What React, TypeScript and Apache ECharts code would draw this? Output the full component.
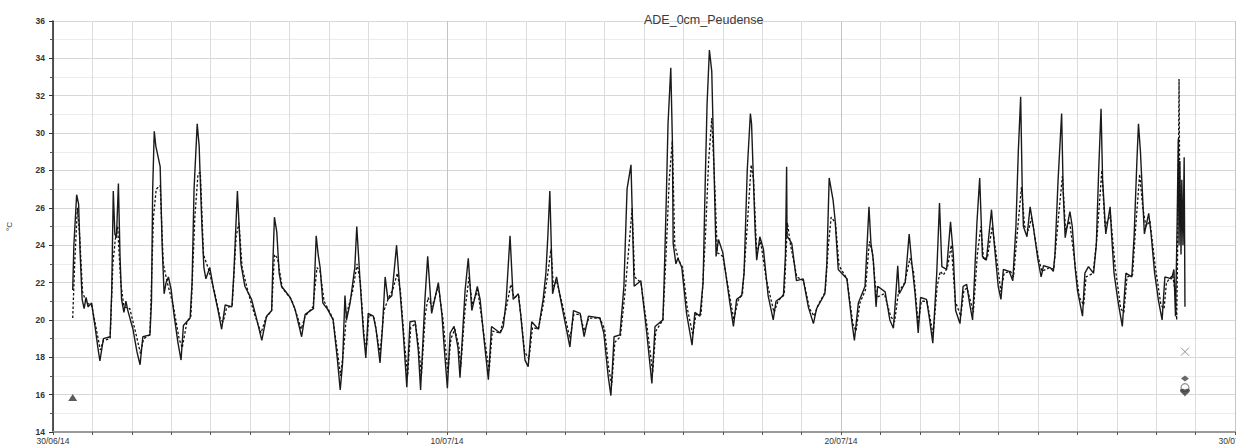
import React, { useEffect, useRef } from "react";
import * as echarts from "echarts";

const chartTitle = "ADE_0cm_Peudense";
const yAxisName = "°C";
const tickDays = [0, 10, 20, 30];
const tickLabels = ["30/06/14", "10/07/14", "20/07/14", "30/07/14"];

// [day since 30/06/14, temperature]
const solidSeries: [number, number][] = [
  [0.50,21.6],[0.53,24.0],[0.60,26.7],[0.65,26.2],[0.69,23.5],[0.74,21.1],[0.79,20.6],[0.84,21.2],[0.89,20.7],[0.98,20.9],[1.07,19.6],[1.14,18.5],[1.19,17.8],[1.28,19.0],[1.45,19.1],[1.49,21.5],[1.53,26.9],[1.57,24.6],[1.61,24.4],[1.66,27.3],[1.70,23.5],[1.74,21.1],[1.80,20.4],[1.85,21.0],[1.90,20.5],[2.03,19.5],[2.13,18.3],[2.21,17.6],[2.28,19.1],[2.46,19.2],[2.50,21.0],[2.53,27.0],[2.57,30.1],[2.61,29.3],[2.72,28.2],[2.77,24.0],[2.82,21.4],[2.87,22.0],[2.93,22.3],[3.00,21.6],[3.07,20.3],[3.17,18.8],[3.25,17.85],[3.31,19.7],[3.48,20.1],[3.53,22.0],[3.58,27.0],[3.66,30.5],[3.71,29.3],[3.73,28.0],[3.78,25.0],[3.83,22.8],[3.88,22.2],[3.98,22.8],[4.07,21.7],[4.19,20.5],[4.28,19.5],[4.37,20.8],[4.54,20.7],[4.59,22.5],[4.68,26.9],[4.72,25.2],[4.77,23.0],[4.87,21.8],[5.04,21.1],[5.15,20.2],[5.30,18.9],[5.42,20.2],[5.55,20.5],[5.58,23.0],[5.62,25.5],[5.68,24.7],[5.74,22.5],[5.80,21.8],[6.02,21.2],[6.14,20.6],[6.31,19.1],[6.40,20.3],[6.61,20.6],[6.68,24.5],[6.73,23.5],[6.78,22.8],[6.85,20.9],[6.96,20.6],[7.11,20.0],[7.22,17.85],[7.29,16.25],[7.35,17.7],[7.41,21.3],[7.45,20.0],[7.54,20.9],[7.66,22.8],[7.71,25.0],[7.79,22.2],[7.88,19.3],[7.94,17.96],[8.00,20.35],[8.13,20.2],[8.20,19.5],[8.30,17.7],[8.36,19.5],[8.43,22.3],[8.50,21.1],[8.60,21.3],[8.72,24.0],[8.78,22.3],[8.89,19.3],[8.98,16.4],[9.06,19.9],[9.19,19.95],[9.27,18.4],[9.33,16.25],[9.44,21.1],[9.51,23.4],[9.61,20.35],[9.78,22.0],[9.87,20.3],[9.93,18.5],[10.01,16.35],[10.08,19.3],[10.18,19.65],[10.28,18.5],[10.33,16.9],[10.46,21.6],[10.54,23.3],[10.63,20.5],[10.77,21.8],[10.84,21.1],[10.95,18.75],[11.05,16.8],[11.13,19.65],[11.35,19.3],[11.43,19.65],[11.50,21.0],[11.60,24.5],[11.68,21.1],[11.81,21.4],[11.87,20.3],[11.98,17.85],[12.06,17.5],[12.15,19.9],[12.32,19.5],[12.44,21.1],[12.51,22.5],[12.56,24.5],[12.61,26.9],[12.68,21.4],[12.78,22.3],[12.91,20.8],[13.12,18.55],[13.21,20.5],[13.38,20.35],[13.48,19.1],[13.59,20.2],[13.88,20.1],[13.98,19.3],[14.09,17.0],[14.16,15.95],[14.24,19.1],[14.39,19.2],[14.49,21.8],[14.57,27.0],[14.67,28.3],[14.75,21.8],[14.92,22.1],[15.07,19.3],[15.20,16.6],[15.28,19.65],[15.48,20.0],[15.51,22.0],[15.56,26.0],[15.61,30.5],[15.68,33.5],[15.72,29.6],[15.74,24.1],[15.81,23.0],[15.86,23.3],[15.96,22.8],[16.08,20.35],[16.22,18.65],[16.29,20.4],[16.42,20.2],[16.50,22.0],[16.55,27.0],[16.60,31.5],[16.66,34.45],[16.72,33.3],[16.78,27.85],[16.83,23.4],[16.89,24.3],[17.00,23.6],[17.18,20.9],[17.27,19.65],[17.35,21.1],[17.48,21.3],[17.54,22.5],[17.62,28.0],[17.70,31.05],[17.73,30.5],[17.82,24.8],[17.86,23.2],[17.94,24.45],[18.03,23.8],[18.15,21.3],[18.28,20.0],[18.35,21.0],[18.54,21.3],[18.59,23.5],[18.62,28.2],[18.63,24.5],[18.75,24.1],[18.87,22.1],[19.04,22.2],[19.17,20.7],[19.30,19.8],[19.38,20.6],[19.59,21.4],[19.64,23.0],[19.70,27.6],[19.80,26.4],[19.85,25.35],[19.93,22.7],[20.15,22.2],[20.27,20.0],[20.34,18.9],[20.44,20.9],[20.61,21.8],[20.71,26.05],[20.76,24.1],[20.82,23.2],[20.89,20.7],[20.93,21.8],[21.12,21.5],[21.24,20.0],[21.33,19.55],[21.37,20.7],[21.44,22.9],[21.48,21.4],[21.63,22.0],[21.73,24.6],[21.79,23.2],[21.88,21.4],[21.96,19.3],[22.02,21.2],[22.17,21.1],[22.25,20.0],[22.33,18.75],[22.43,22.5],[22.50,26.25],[22.56,22.85],[22.68,22.7],[22.78,25.25],[22.85,23.5],[22.91,20.5],[23.02,19.8],[23.10,21.8],[23.19,21.9],[23.27,20.8],[23.34,20.0],[23.45,25.2],[23.52,27.6],[23.59,23.4],[23.69,23.2],[23.82,25.9],[23.88,24.3],[23.99,21.8],[24.06,21.1],[24.12,22.7],[24.27,22.6],[24.36,22.1],[24.44,25.0],[24.50,29.0],[24.56,31.95],[24.60,27.0],[24.63,25.0],[24.72,24.45],[24.80,26.05],[24.88,25.0],[25.00,23.2],[25.08,22.3],[25.14,22.9],[25.31,22.8],[25.39,22.6],[25.43,23.5],[25.51,27.5],[25.60,31.05],[25.64,26.8],[25.69,24.4],[25.74,25.0],[25.81,25.8],[25.87,25.0],[25.94,22.85],[26.00,21.6],[26.13,20.2],[26.19,22.5],[26.28,22.85],[26.41,22.5],[26.48,24.0],[26.54,28.0],[26.60,31.3],[26.64,27.5],[26.72,24.6],[26.83,26.05],[26.87,24.5],[26.93,22.5],[27.03,21.0],[27.14,19.65],[27.23,22.5],[27.38,22.3],[27.44,24.5],[27.51,28.5],[27.55,30.5],[27.60,29.0],[27.70,24.6],[27.81,25.7],[27.87,24.6],[27.96,22.5],[28.06,21.0],[28.15,20.0],[28.22,22.3],[28.39,22.2],[28.45,22.7],[28.49,20.2],[28.53,25.0],[28.56,29.7],[28.58,24.0],[28.60,28.5],[28.63,23.5],[28.65,27.5],[28.68,24.0],[28.71,28.7],[28.73,20.7]
];

const dashedSeries: [number, number][] = [
  [0.50,20.1],[0.55,23.0],[0.62,26.0],[0.68,24.4],[0.75,21.5],[0.85,20.9],[0.98,20.8],[1.10,19.5],[1.20,18.4],[1.28,18.9],[1.45,19.0],[1.52,23.0],[1.58,24.3],[1.64,25.0],[1.72,22.0],[1.80,20.7],[1.95,20.6],[2.10,19.3],[2.22,18.2],[2.30,19.0],[2.46,19.2],[2.55,25.5],[2.62,27.0],[2.72,27.2],[2.80,23.0],[2.90,22.0],[3.05,20.8],[3.20,19.0],[3.28,18.5],[3.40,19.9],[3.50,20.2],[3.60,25.5],[3.68,27.8],[3.74,27.9],[3.82,23.5],[3.95,22.7],[4.10,21.5],[4.25,20.0],[4.32,19.9],[4.40,20.6],[4.55,20.8],[4.65,24.5],[4.72,25.2],[4.80,22.8],[4.95,21.5],[5.10,20.4],[5.28,19.3],[5.40,20.1],[5.55,20.5],[5.62,23.5],[5.70,23.3],[5.82,21.7],[6.05,21.1],[6.20,20.2],[6.30,19.5],[6.40,20.2],[6.60,20.7],[6.70,22.8],[6.78,22.6],[6.88,21.0],[7.10,20.1],[7.22,18.3],[7.30,17.0],[7.38,18.5],[7.45,20.3],[7.60,21.5],[7.72,23.0],[7.80,22.0],[7.90,19.0],[7.96,18.6],[8.02,20.3],[8.15,20.1],[8.30,18.2],[8.40,20.5],[8.52,21.2],[8.62,21.6],[8.74,22.5],[8.82,21.5],[8.92,18.8],[9.00,17.0],[9.08,19.6],[9.20,19.8],[9.28,18.6],[9.35,17.0],[9.45,20.3],[9.52,21.2],[9.62,20.7],[9.78,21.8],[9.90,20.0],[10.02,17.2],[10.10,19.0],[10.20,19.5],[10.30,18.6],[10.35,17.5],[10.46,20.6],[10.56,22.3],[10.64,20.8],[10.78,21.6],[10.95,19.0],[11.07,17.3],[11.15,19.4],[11.35,19.3],[11.50,20.6],[11.62,21.9],[11.70,21.2],[11.82,21.3],[11.97,18.3],[12.08,17.9],[12.17,19.6],[12.32,19.5],[12.45,20.9],[12.56,22.5],[12.64,23.8],[12.70,21.8],[12.78,22.1],[12.92,20.9],[13.12,19.0],[13.22,20.3],[13.38,20.3],[13.48,19.4],[13.60,20.1],[13.88,20.1],[14.00,19.5],[14.10,17.5],[14.18,16.5],[14.26,18.8],[14.40,19.1],[14.52,21.5],[14.62,24.0],[14.70,26.0],[14.76,22.3],[14.92,22.0],[15.08,19.6],[15.22,17.2],[15.30,19.4],[15.48,20.0],[15.56,23.5],[15.64,27.5],[15.72,29.6],[15.78,24.0],[15.88,23.2],[15.98,22.8],[16.10,20.6],[16.24,19.2],[16.32,20.3],[16.45,20.3],[16.56,24.5],[16.64,28.5],[16.72,30.8],[16.80,27.0],[16.86,23.6],[17.00,23.4],[17.18,21.2],[17.28,20.0],[17.38,21.0],[17.50,21.4],[17.62,25.0],[17.72,28.3],[17.78,27.5],[17.86,23.6],[17.96,24.2],[18.10,22.2],[18.30,20.4],[18.40,21.0],[18.56,21.4],[18.64,25.2],[18.72,24.0],[18.88,22.3],[19.05,22.1],[19.20,20.6],[19.32,20.2],[19.42,20.8],[19.60,21.5],[19.68,24.0],[19.75,25.5],[19.86,25.2],[19.95,22.9],[20.15,22.2],[20.30,19.8],[20.38,19.4],[20.48,20.9],[20.62,21.6],[20.72,24.2],[20.80,23.6],[20.90,21.2],[21.10,21.4],[21.26,20.2],[21.36,19.9],[21.46,21.5],[21.62,22.0],[21.75,23.3],[21.84,22.6],[21.96,19.8],[22.04,21.0],[22.18,21.0],[22.34,19.2],[22.44,21.8],[22.52,22.6],[22.60,22.4],[22.70,22.8],[22.80,24.0],[22.90,21.0],[23.04,20.2],[23.12,21.6],[23.20,21.7],[23.36,20.4],[23.46,23.5],[23.55,25.0],[23.62,23.2],[23.72,23.4],[23.84,25.0],[23.92,23.8],[24.06,21.5],[24.14,22.5],[24.30,22.6],[24.38,22.3],[24.48,24.8],[24.58,27.1],[24.66,25.0],[24.76,24.8],[24.84,25.5],[25.00,23.4],[25.10,22.6],[25.30,22.8],[25.40,22.7],[25.52,25.5],[25.62,27.7],[25.70,24.8],[25.80,25.3],[25.92,23.3],[26.05,21.2],[26.16,20.8],[26.22,22.3],[26.40,22.5],[26.50,24.5],[26.62,28.0],[26.70,25.0],[26.84,25.6],[26.96,22.8],[27.10,20.6],[27.18,20.4],[27.26,22.3],[27.40,22.4],[27.48,25.0],[27.58,27.8],[27.66,26.0],[27.74,25.0],[27.84,25.3],[27.98,22.8],[28.12,20.8],[28.20,20.6],[28.26,22.0],[28.42,22.4],[28.48,21.5],[28.52,20.0],[28.54,23.0],[28.57,30.0],[28.58,32.9],[28.60,26.0],[28.62,25.0]
];

const triangleMarker: [number, number][] = [[0.5, 15.85]];
const crossMarker: [number, number][] = [[28.73, 18.3]];
const diamondMarker: [number, number][] = [[28.73, 16.87]];
const circleMarker: [number, number][] = [[28.73, 16.37]];
const downMarker: [number, number][] = [[28.73, 16.1]];

const FONT = "'Liberation Sans', Arial, sans-serif";

export default function App() {
  const ref = useRef<HTMLDivElement>(null);
  useEffect(() => {
    if (!ref.current) return;
    const chart = echarts.init(ref.current, null, { renderer: "svg" });
    const vColors = ["#c4c4c4", "#dcdcdc", "#dcdcdc", "#dcdcdc", "#dcdcdc", "#dcdcdc", "#dcdcdc", "#dcdcdc", "#dcdcdc", "#dcdcdc"];
    chart.setOption({
      animation: false,
      backgroundColor: "#ffffff",
      title: {
        text: chartTitle,
        left: 639,
        top: 8,
        textStyle: { fontFamily: FONT, fontSize: 12.5, fontWeight: "normal", color: "#3a3a3a" },
      },
      grid: { left: 53, right: 1, top: 21, bottom: 12, containLabel: false, outerBoundsMode: "none" },
      xAxis: {
        type: "value",
        min: 0,
        max: 30,
        interval: 1,
        axisLine: { show: true, lineStyle: { color: "#9a9a9a", width: 2 } },
        axisTick: { show: true, length: 3, lineStyle: { color: "#555" } },
        splitLine: { show: true, lineStyle: { color: vColors, width: 1 } },
        axisLabel: {
          show: true,
          margin: 4,
          fontSize: 8.5,
          fontFamily: FONT,
          color: "#333",
          showMaxLabel: true,
          showMinLabel: true,
          hideOverlap: false,
          formatter: (v: number) => {
            const i = tickDays.indexOf(Math.round(v));
            return i >= 0 && Math.abs(v - tickDays[i]) < 1e-6 ? tickLabels[i] : "";
          },
        },
      },
      yAxis: {
        type: "value",
        min: 14,
        max: 36,
        interval: 2,
        name: yAxisName,
        nameLocation: "middle",
        nameGap: 40,
        nameRotate: 90,
        nameTextStyle: { fontFamily: FONT, fontSize: 8, color: "#333" },
        axisLine: { show: true, lineStyle: { color: "#222", width: 1.5 } },
        axisTick: { show: true, length: 4, lineStyle: { color: "#333" } },
        minorTick: { show: true, splitNumber: 2, length: 3, lineStyle: { color: "#555" } },
        splitLine: { show: true, lineStyle: { color: "#d8d8d8", width: 1 } },
        minorSplitLine: { show: true, lineStyle: { color: "#ececec", width: 1 } },
        axisLabel: { margin: 8, fontSize: 8.5, fontFamily: FONT, color: "#333", fontWeight: "bold" },
      },
      series: [
        {
          type: "line",
          data: solidSeries,
          showSymbol: false,
          symbol: "none",
          lineStyle: { color: "#1a1a1a", width: 1.4 },
          z: 3,
        },
        {
          type: "line",
          data: dashedSeries,
          showSymbol: false,
          symbol: "none",
          lineStyle: { color: "#111", width: 1.3, type: [2.5, 2] },
          z: 4,
        },
        {
          type: "scatter",
          data: triangleMarker,
          symbol: "triangle",
          symbolSize: [9, 7],
          itemStyle: { color: "#333" },
          z: 5,
        },
        {
          type: "scatter",
          data: crossMarker,
          symbol: "path://M0,0L10,10M10,0L0,10",
          symbolSize: 8,
          itemStyle: { color: "transparent", borderColor: "#777", borderWidth: 1 },
          z: 5,
        },
        {
          type: "scatter",
          data: diamondMarker,
          symbol: "diamond",
          symbolSize: [8, 6],
          itemStyle: { color: "#444" },
          z: 5,
        },
        {
          type: "scatter",
          data: circleMarker,
          symbol: "circle",
          symbolSize: 8,
          itemStyle: { color: "#fff", borderColor: "#777", borderWidth: 1.2 },
          z: 5,
        },
        {
          type: "scatter",
          data: downMarker,
          symbol: "path://M0,0C0,-3 4,-3 5,-1C6,-3 10,-3 10,0C10,3 6,5 5,8C4,5 0,3 0,0Z",
          symbolSize: [10, 8],
          itemStyle: { color: "#333" },
          z: 6,
        },
      ],
    });
    return () => chart.dispose();
  }, []);
  return (
    <div
      ref={ref}
      style={{ position: "fixed", left: 0, top: 0, width: 1236, height: 444, background: "#fff" }}
    />
  );
}
